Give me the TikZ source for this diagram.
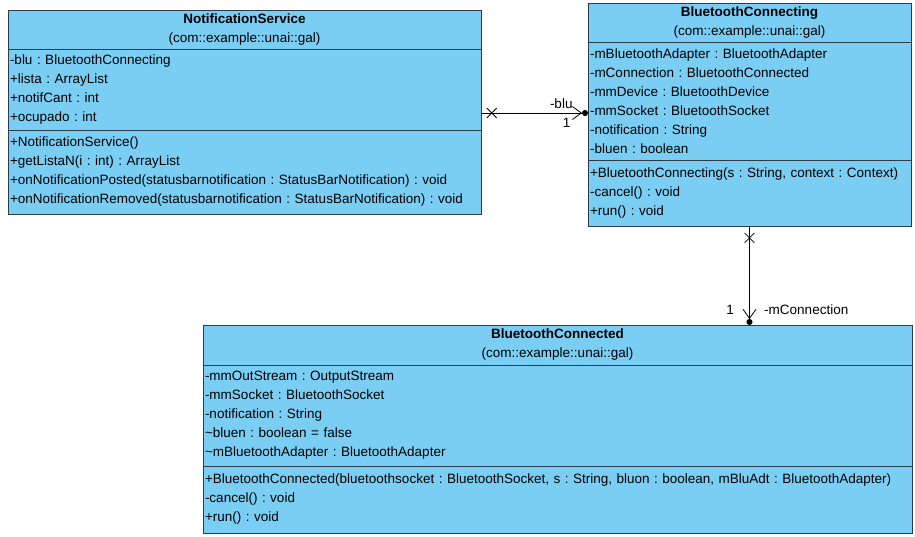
\documentclass[tikz,border=0pt]{standalone}
\usepackage{fontspec}
\setmainfont{Liberation Sans}
\usetikzlibrary{positioning,arrows.meta,shapes.misc}
\definecolor{UmlFill}{RGB}{122,206,244}
\definecolor{UmlLine}{RGB}{45,60,75}
\newcommand{\umlfont}{\fontsize{13.5}{19}\selectfont\frenchspacing\hyphenpenalty=10000}

\begin{document}
\begin{tikzpicture}[x=1pt,y=-1pt,node distance=0pt,every node/.style={font=\umlfont},
  umlbox/.style={draw=UmlLine,fill=UmlFill,line width=0.8pt,inner xsep=2pt,inner ysep=0pt,outer sep=0pt},
  umlhead/.style={umlbox,align=center},
  umlpart/.style={umlbox,align=left},
  crossmark/.style={draw,cross out,minimum size=9pt,inner sep=0pt,line width=0.8pt},
  assoc/.style={line width=0.8pt,-{Straight Barb[length=9pt,width=13pt] Circle[length=6pt]}}]
\useasboundingbox (0,0) rectangle (915,537);
% NotificationService
\node[umlhead,text width=469pt,minimum height=39pt,anchor=north west] (nshead) at (8,10) {\textbf{NotificationService}\\(com::example::unai::gal)};
\node[umlpart,text width=469pt,minimum height=81pt,below=of nshead] (nsattr) {-blu : BluetoothConnecting\\+lista : ArrayList\\+notifCant : int\\+ocupado : int};
\node[umlpart,text width=469pt,minimum height=84pt,below=of nsattr] (nsops) {+NotificationService()\\+getListaN(i : int) : ArrayList\\+onNotificationPosted(statusbarnotification : StatusBarNotification) : void\\+onNotificationRemoved(statusbarnotification : StatusBarNotification) : void};
% BluetoothConnecting
\node[umlhead,text width=319pt,minimum height=39pt,anchor=north west] (bchead) at (588,3) {\textbf{BluetoothConnecting}\\(com::example::unai::gal)};
\node[umlpart,text width=319pt,minimum height=118pt,below=of bchead] (bcattr) {-mBluetoothAdapter : BluetoothAdapter\\-mConnection : BluetoothConnected\\-mmDevice : BluetoothDevice\\-mmSocket : BluetoothSocket\\-notification : String\\-bluen : boolean};
\node[umlpart,text width=319pt,minimum height=66pt,below=of bcattr] (bcops) {+BluetoothConnecting(s : String, context : Context)\\-cancel() : void\\+run() : void};
% BluetoothConnected
\node[umlhead,text width=705pt,minimum height=40pt,anchor=north west] (bdhead) at (203,325) {\textbf{BluetoothConnected}\\(com::example::unai::gal)};
\node[umlpart,text width=705pt,minimum height=101pt,below=of bdhead] (bdattr) {-mmOutStream : OutputStream\\-mmSocket : BluetoothSocket\\-notification : String\\\textasciitilde bluen : boolean = false\\\textasciitilde mBluetoothAdapter : BluetoothAdapter};
\node[umlpart,text width=705pt,minimum height=67pt,below=of bdattr] (bdops) {+BluetoothConnected(bluetoothsocket : BluetoothSocket, s : String, bluon : boolean, mBluAdt : BluetoothAdapter)\\-cancel() : void\\+run() : void};
% associations
\draw[assoc] ([yshift=-23.5pt]nsattr.east) -- node[pos=0.1,crossmark]{} node[pos=0.75,above=1pt]{-blu} node[pos=0.8,below=1pt]{1} ([yshift=-23.5pt]nsattr.east -| bcattr.west);
\draw[assoc] (bcops.south) -- node[pos=0.12,crossmark]{} node[pos=0.85,left=12pt]{1} node[pos=0.85,right=11pt]{-mConnection} (bcops.south |- bdhead.north);
\end{tikzpicture}
\end{document}
